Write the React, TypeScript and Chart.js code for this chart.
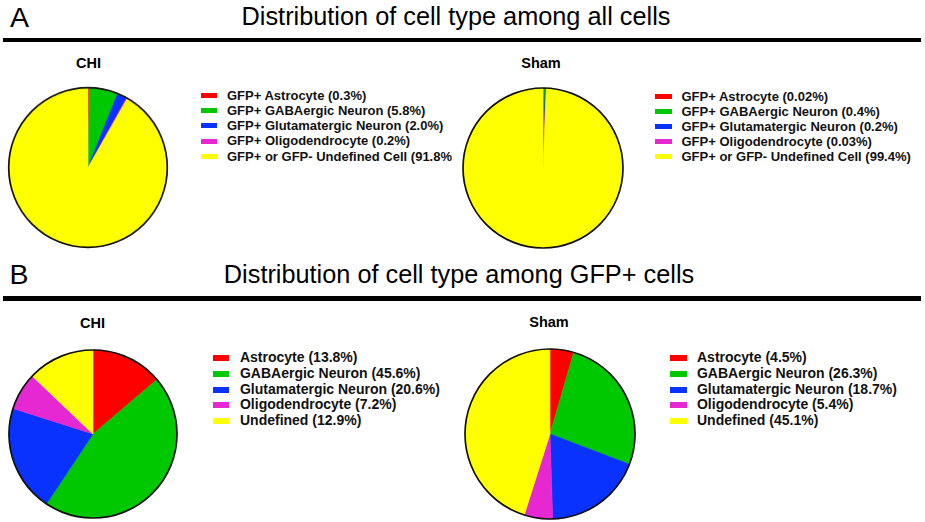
import React, { useEffect, useRef } from "react";
import { Chart, registerables } from "chart.js";

Chart.register(...registerables);

// ---- data ----
const sliceColors = ["#ff0000", "#00c800", "#0a32ff", "#e628d2", "#ffff00"];
const labelsAll = [
  "GFP+ Astrocyte",
  "GFP+ GABAergic Neuron",
  "GFP+ Glutamatergic Neuron",
  "GFP+ Oligodendrocyte",
  "GFP+ or GFP- Undefined Cell",
];
const labelsGfp = ["Astrocyte", "GABAergic Neuron", "Glutamatergic Neuron", "Oligodendrocyte", "Undefined"];
const allChi = [0.3, 5.8, 2.0, 0.2, 91.8];
const allSham = [0.02, 0.4, 0.2, 0.03, 99.4];
const gfpChi = [13.8, 45.6, 20.6, 7.2, 12.9];
const gfpSham = [4.5, 26.3, 18.7, 5.4, 45.1];
const groupNames = ["CHI", "Sham"];
const panelLetters = ["A", "B"];
const panelTitles = [
  "Distribution of cell type among all cells",
  "Distribution of cell type among GFP+ cells",
];

const FONT = '"Liberation Sans", Arial, Helvetica, sans-serif';

const fmt = (v: number) => (v < 0.1 ? v.toFixed(2) : v.toFixed(1));

const outlinePlugin = {
  id: "outline",
  afterDatasetsDraw(chart: any) {
    const meta = chart.getDatasetMeta(0);
    const arc = meta.data[0];
    if (!arc) return;
    const { x, y, outerRadius } = arc.getProps(["x", "y", "outerRadius"], true);
    const ctx = chart.ctx;
    ctx.save();
    ctx.beginPath();
    ctx.arc(x, y, outerRadius, 0, Math.PI * 2);
    ctx.lineWidth = 1.7;
    ctx.strokeStyle = "#111";
    ctx.stroke();
    ctx.restore();
  },
};

function PieChart({ labels, values, cx, cy, r }: { labels: string[]; values: number[]; cx: number; cy: number; r: number }) {
  const ref = useRef<HTMLCanvasElement>(null);
  const pad = 6;
  const size = (r + pad) * 2;
  useEffect(() => {
    if (!ref.current) return;
    const chart = new Chart(ref.current, {
      type: "pie",
      data: {
        labels,
        datasets: [
          {
            data: values,
            backgroundColor: sliceColors,
            borderColor: sliceColors,
            borderWidth: 0.6,
          },
        ],
      },
      options: {
        responsive: false,
        animation: false,
        radius: r,
        layout: { padding: 0 },
        plugins: { legend: { display: false }, tooltip: { enabled: false } },
      } as any,
      plugins: [outlinePlugin],
    });
    return () => chart.destroy();
  }, []);
  return (
    <canvas
      ref={ref}
      width={size}
      height={size}
      style={{ position: "absolute", left: cx - size / 2, top: cy - size / 2, width: size, height: size }}
    />
  );
}

function Legend({
  labels,
  values,
  left,
  top,
  fontSize,
  rowH,
  boxW,
  boxH,
  gap,
  clipRight,
}: {
  labels: string[];
  values: number[];
  left: number;
  top: number;
  fontSize: number;
  rowH: number;
  boxW: number;
  boxH: number;
  gap: number;
  clipRight?: number;
}) {
  return (
    <div
      style={{
        position: "absolute",
        left,
        top,
        width: clipRight ? clipRight - left : undefined,
        overflow: clipRight ? "hidden" : "visible",
        fontFamily: FONT,
        fontWeight: "bold",
        fontSize,
        color: "#111",
      }}
    >
      {labels.map((l, i) => (
        <div key={i} style={{ display: "flex", alignItems: "center", height: rowH, lineHeight: rowH + "px", whiteSpace: "nowrap" }}>
          <span style={{ display: "inline-block", width: boxW, height: boxH, background: sliceColors[i], marginRight: gap, flex: "none" }} />
          <span>{`${l} (${fmt(values[i])}%)`}</span>
        </div>
      ))}
    </div>
  );
}

function Text({ text, left, top, size, bold, center }: { text: string; left: number; top: number; size: number; bold?: boolean; center?: boolean }) {
  return (
    <div
      style={{
        position: "absolute",
        left: center ? left - 300 : left,
        width: center ? 600 : undefined,
        textAlign: center ? "center" : "left",
        top,
        fontFamily: FONT,
        fontSize: size,
        lineHeight: size + "px",
        fontWeight: bold ? "bold" : "normal",
        whiteSpace: "nowrap",
        color: "#000",
      }}
    >
      {text}
    </div>
  );
}

export default function App() {
  return (
    <div style={{ position: "absolute", left: 0, top: 0, width: 925, height: 522, background: "#fff", overflow: "hidden" }}>
      {/* Panel A */}
      <Text text={panelLetters[0]} left={10} top={2.5} size={28.5} />
      <Text text={panelTitles[0]} left={456} top={4} size={25.3} center />
      <div style={{ position: "absolute", left: 3, top: 37.5, width: 918, height: 4, background: "#000" }} />
      <Text text={groupNames[0]} left={88.5} top={56.2} size={14.5} bold center />
      <Text text={groupNames[1]} left={541} top={56.2} size={14.5} bold center />
      <PieChart labels={labelsAll} values={allChi} cx={88} cy={167.5} r={79.3} />
      <PieChart labels={labelsAll} values={allSham} cx={542.5} cy={168} r={80} />
      <Legend labels={labelsAll} values={allChi} left={201} top={88.2} fontSize={13} rowH={15.1} boxW={16} boxH={5} gap={10} clipRight={451.5} />
      <Legend labels={labelsAll} values={allSham} left={655} top={88.5} fontSize={13} rowH={15.1} boxW={16.5} boxH={5} gap={10} />

      {/* Panel B */}
      <Text text={panelLetters[1]} left={9.5} top={260} size={28.5} />
      <Text text={panelTitles[1]} left={459} top={261.6} size={25.3} center />
      <div style={{ position: "absolute", left: 3, top: 296, width: 918, height: 4.5, background: "#000" }} />
      <Text text={groupNames[0]} left={92.5} top={315.7} size={14.5} bold center />
      <Text text={groupNames[1]} left={549} top={315.4} size={14.5} bold center />
      <PieChart labels={labelsGfp} values={gfpChi} cx={93} cy={434} r={84} />
      <PieChart labels={labelsGfp} values={gfpSham} cx={550} cy={434} r={85} />
      <Legend labels={labelsGfp} values={gfpChi} left={212.7} top={350.2} fontSize={14} rowH={15.75} boxW={16.6} boxH={6} gap={10.7} />
      <Legend labels={labelsGfp} values={gfpSham} left={670} top={350.2} fontSize={14} rowH={15.75} boxW={16.7} boxH={6} gap={10.3} />
    </div>
  );
}
